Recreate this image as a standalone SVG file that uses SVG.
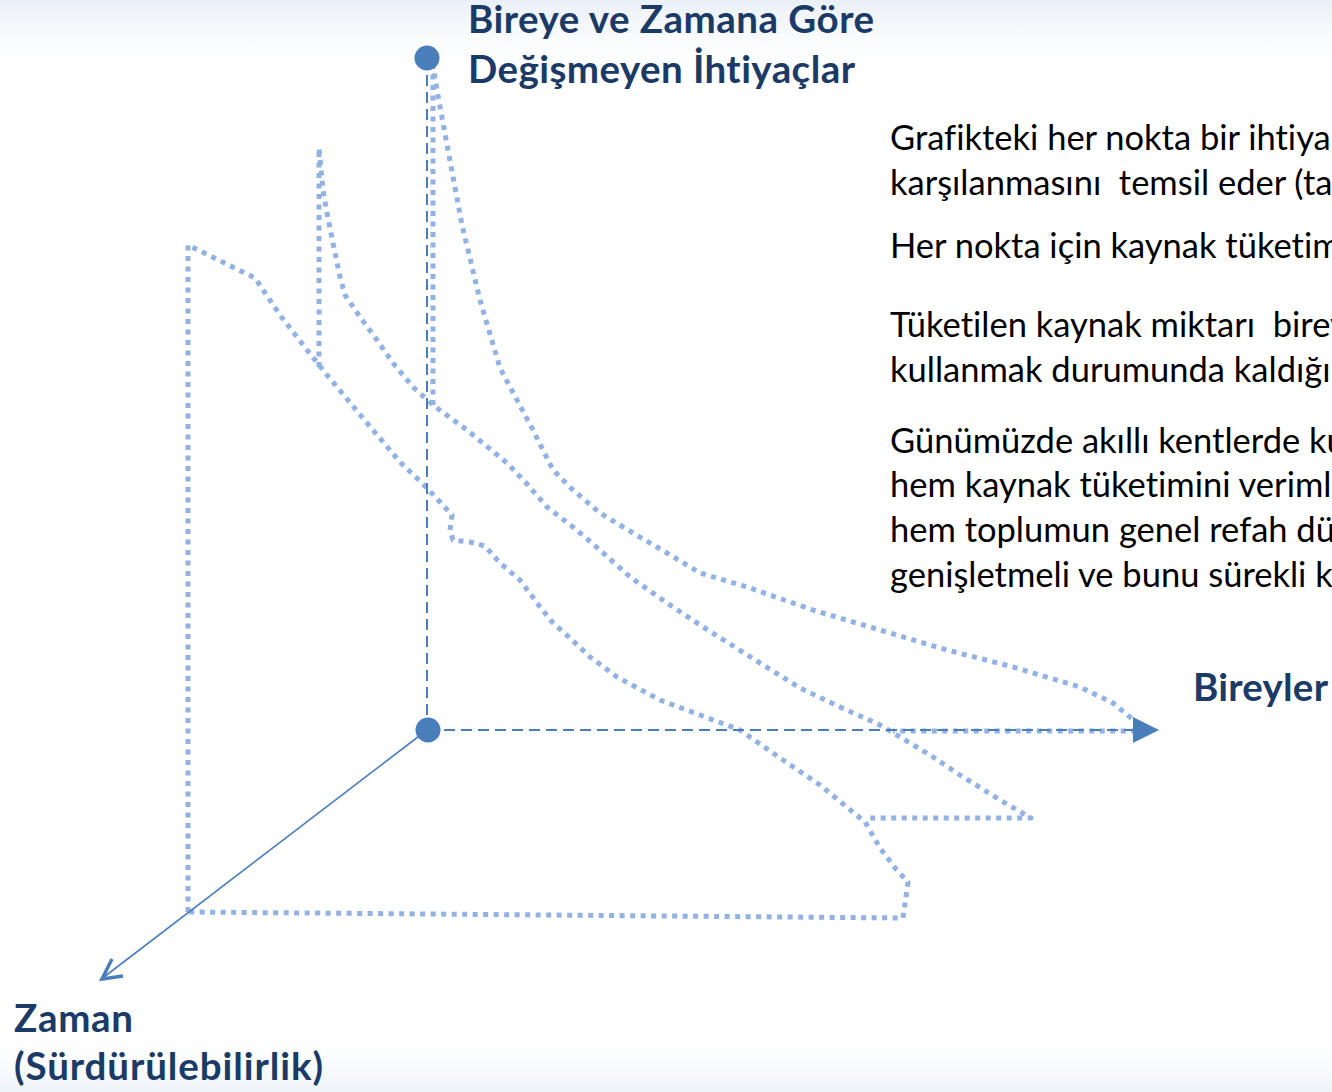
<svg xmlns="http://www.w3.org/2000/svg" width="1332" height="1092" viewBox="0 0 1332 1092">
  <defs>
    <linearGradient id="topFade" x1="0" y1="0" x2="0" y2="1">
      <stop offset="0" stop-color="#e9f0f8"/>
      <stop offset="1" stop-color="#ffffff" stop-opacity="0"/>
    </linearGradient>
    <linearGradient id="botFade" x1="0" y1="0" x2="0" y2="1">
      <stop offset="0" stop-color="#ffffff" stop-opacity="0"/>
      <stop offset="1" stop-color="#eef3f9"/>
    </linearGradient>
    <style>
      .title { font-family: Lato, "Liberation Sans", sans-serif; font-weight: bold; fill: #1b3a66; font-size: 38.5px; font-variant-ligatures: none; }
      .body { font-family: Lato, "Liberation Sans", sans-serif; fill: #000000; font-size: 34.5px; white-space: pre; font-variant-ligatures: none; }
      .axis { stroke: #4a7ebb; stroke-width: 2; fill: none; stroke-dasharray: 11 6; }
      .surface { stroke: #92b2e3; stroke-width: 5; fill: none; stroke-dasharray: 5 5.5; stroke-linejoin: round; }
      .dot { fill: #4a7ebb; }
      .head { fill: none; stroke: #4a7ebb; stroke-width: 3.5; stroke-linejoin: miter; }
    </style>
  </defs>

  <rect x="0" y="0" width="1332" height="1092" fill="#ffffff"/>
  <rect x="0" y="0" width="1332" height="80" fill="url(#topFade)"/>
  <rect x="0" y="1030" width="1332" height="62" fill="url(#botFade)"/>

  <g id="connectors">
    <!-- surfaces (dotted) -->
    <path id="surface-outer" class="surface" d="M 188 912 L 188 245 L 255 278 L 280 315 L 307 350 L 327 375 L 367 423 L 400 462 L 427 488 L 452 515 L 450 530 L 453 540 L 470 542 L 485 546 L 500 563 L 520 580 L 540 607 L 553 623 L 570 638 L 590 657 L 617 677 L 660 700 L 700 715 L 740 730 L 780 758 L 820 785 L 865 822 L 880 848 L 895 868 L 908 882 L 903 918 Z"/>
    <path id="surface-middle" class="surface" d="M 319 367 L 319 148 L 323 190 L 327 213 L 333 243 L 340 277 L 345 295 L 360 317 L 377 340 L 393 363 L 413 387 L 433 405 L 467 430 L 507 463 L 527 484 L 547 507 L 573 527 L 600 550 L 630 577 L 667 603 L 700 625 L 760 663 L 800 688 L 840 707 L 880 725 L 900 737 L 930 755 L 960 775 L 1000 800 L 1031 818 L 868 818"/>
    <path id="surface-inner" class="surface" d="M 433 405 L 433 66 L 437 90 L 448 150 L 462 225 L 480 300 L 500 368 L 508 383 L 533 430 L 553 470 L 573 490 L 600 513 L 633 533 L 667 553 L 700 573 L 747 587 L 813 610 L 880 630 L 947 650 L 1013 667 L 1080 687 L 1113 703 L 1137 723 L 1137 731 L 893 731"/>

    <!-- axes -->
    <line id="axis-vertical" class="axis" x1="427" y1="58" x2="427" y2="730"/>
    <line id="axis-horizontal" class="axis" x1="427" y1="730" x2="1138" y2="730"/>
    <polygon points="1133,717 1159,730 1133,743" fill="#4a7ebb"/>
    <line id="axis-time" x1="427" y1="730" x2="104" y2="977" stroke="#4a7ebb" stroke-width="1.6"/>
    <polyline class="head" points="112,959 102,979 123,976"/>
  </g>

  <g id="node-top">
    <circle class="dot" cx="427" cy="58" r="12.5"/>
  </g>
  <g id="node-origin">
    <circle class="dot" cx="428" cy="730" r="12.5"/>
  </g>

  <g id="label-needs">
    <text class="title" x="468" y="33" textLength="406">Bireye ve Zamana Göre</text>
    <text class="title" x="468" y="83" textLength="387">Değişmeyen İhtiyaçlar</text>
  </g>
  <g id="label-individuals">
    <text class="title" x="1193" y="701" textLength="135">Bireyler</text>
  </g>
  <g id="label-time">
    <text class="title" x="14" y="1032" textLength="119">Zaman</text>
    <text class="title" x="14" y="1080" textLength="309">(Sürdürülebilirlik)</text>
  </g>

  <g id="text-block">
    <text class="body" x="890" y="150">Grafikteki her nokta bir ihtiya</text>
    <text class="body" x="890" y="195">karşılanmasını  temsil eder (ta</text>
    <text class="body" x="890" y="258">Her nokta için kaynak tüketim</text>
    <text class="body" x="890" y="337">Tüketilen kaynak miktarı  birey</text>
    <text class="body" x="890" y="382">kullanmak durumunda kaldığı</text>
    <text class="body" x="890" y="453">Günümüzde akıllı kentlerde ku</text>
    <text class="body" x="890" y="497">hem kaynak tüketimini veriml</text>
    <text class="body" x="890" y="542">hem toplumun genel refah dü</text>
    <text class="body" x="890" y="587">genişletmeli ve bunu sürekli k</text>
  </g>
</svg>
